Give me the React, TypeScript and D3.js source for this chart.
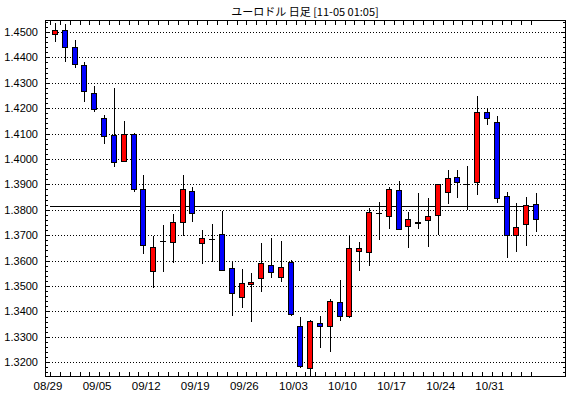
import * as d3 from "d3";

// 日付 (2011/08/29 - 11/04)
const dates = [
  "08/29", "08/30", "08/31", "09/01", "09/02",
  "09/05", "09/06", "09/07", "09/08", "09/09",
  "09/12", "09/13", "09/14", "09/15", "09/16",
  "09/19", "09/20", "09/21", "09/22", "09/23",
  "09/26", "09/27", "09/28", "09/29", "09/30",
  "10/03", "10/04", "10/05", "10/06", "10/07",
  "10/10", "10/11", "10/12", "10/13", "10/14",
  "10/17", "10/18", "10/19", "10/20", "10/21",
  "10/24", "10/25", "10/26", "10/27", "10/28",
  "10/31", "11/01", "11/02", "11/03", "11/04",
];

const opens = [
  1.4491, 1.4508, 1.444, 1.4369, 1.4259,
  1.416, 1.4095, 1.3994, 1.4099, 1.3882,
  1.3561, 1.3676, 1.3675, 1.3751, 1.3874,
  1.3671, 1.3685, 1.3704, 1.357, 1.3458,
  1.3507, 1.3531, 1.3583, 1.3537, 1.3596,
  1.3344, 1.3176, 1.3353, 1.3344, 1.3439,
  1.3384, 1.3639, 1.3635, 1.3787, 1.3775,
  1.3877, 1.3735, 1.375, 1.3758, 1.3778,
  1.3869, 1.3928, 1.3901, 1.3908, 1.4186,
  1.4147, 1.3856, 1.3701, 1.3743, 1.3822,
];

const highs = [
  1.4535, 1.453, 1.4469, 1.4383, 1.4287,
  1.4173, 1.4281, 1.415, 1.4101, 1.3937,
  1.3695, 1.374, 1.3782, 1.3937, 1.3891,
  1.3721, 1.3743, 1.3796, 1.36, 1.3567,
  1.355, 1.3668, 1.3688, 1.3677, 1.3603,
  1.338, 1.3367, 1.3382, 1.3449, 1.3524,
  1.3698, 1.3675, 1.3806, 1.3831, 1.3891,
  1.3914, 1.3793, 1.3865, 1.3845, 1.3901,
  1.3957, 1.3957, 1.3973, 1.4248, 1.42,
  1.4169, 1.3869, 1.3826, 1.3852, 1.3865,
];

const lows = [
  1.4462, 1.4383, 1.4357, 1.4223, 1.4183,
  1.4058, 1.397, 1.399, 1.3872, 1.3625,
  1.3494, 1.3557, 1.359, 1.3698, 1.3751,
  1.3586, 1.3594, 1.3559, 1.3384, 1.3415,
  1.336, 1.3478, 1.3531, 1.3517, 1.3384,
  1.3179, 1.3145, 1.3258, 1.3242, 1.3363,
  1.3376, 1.3559, 1.358, 1.3681, 1.3723,
  1.3723, 1.3649, 1.3723, 1.3655, 1.3701,
  1.3822, 1.3848, 1.3799, 1.3858, 1.4134,
  1.3826, 1.3609, 1.3633, 1.3659, 1.3712,
];

const closes = [
  1.4508, 1.4442, 1.4373, 1.4267, 1.4197,
  1.4089, 1.3987, 1.4099, 1.3882, 1.3662,
  1.3653, 1.3678, 1.3751, 1.3882, 1.3786,
  1.3688, 1.3687, 1.3564, 1.3472, 1.3511,
  1.3515, 1.359, 1.3554, 1.3576, 1.3389,
  1.3187, 1.3363, 1.3344, 1.3441, 1.3384,
  1.3649, 1.3649, 1.379, 1.3789, 1.3881,
  1.3723, 1.3763, 1.3752, 1.3777, 1.39,
  1.3924, 1.3908, 1.3903, 1.4186, 1.416,
  1.3845, 1.3701, 1.3731, 1.3817, 1.3764,
];

const yTicks = [
  1.32, 1.33, 1.34, 1.35, 1.36, 1.37, 1.38,
  1.39, 1.4, 1.41, 1.42, 1.43, 1.44, 1.45,
];
const xLabels = ["08/29", "09/05", "09/12", "09/19", "09/26", "10/03", "10/10", "10/17", "10/24", "10/31"];
const refLine = 1.3814;
const title = "ユーロドル 日足 [11-05 01:05]";

const W = 570;
const H = 398;
const plot = { left: 45, top: 20, right: 565, bottom: 376 };

export default function App() {
  const x = d3.scaleLinear().domain([0, dates.length - 1]).range([55, 536]);
  const y = d3.scaleLinear().domain([1.3142, 1.4547]).range([377, 20]);
  const px = (i: number) => Math.round(x(i));
  const py = (v: number) => Math.round(y(v));

  // 細かい目盛 (0.002 ごと)
  const minor = d3.range(1316, 1455, 2).map((d) => d / 1000);

  const font = "'Liberation Sans', Arial, sans-serif";

  return (
    <svg
      width={W}
      height={H}
      style={{ position: "absolute", left: 0, top: 0, background: "#fff" }}
      shapeRendering="crispEdges"
    >
      <rect x={0} y={0} width={W} height={H} fill="#fff" />
      <text
        x={(plot.left + plot.right) / 2}
        y={16}
        textAnchor="middle"
        fontFamily="'Noto Sans CJK JP', sans-serif"
        fontSize={11}
        fill="#000"
      >
        {title}
      </text>

      {/* グリッド */}
      {yTicks.map((t) => (
        <line
          key={"g" + t}
          x1={plot.left + 1}
          x2={plot.right}
          y1={py(t) + 0.5}
          y2={py(t) + 0.5}
          stroke="#000"
          strokeDasharray="1 2"
        />
      ))}

      {/* 目盛 左右 */}
      {minor.map((t) => {
        const isMajor = Math.abs(t * 100 - Math.round(t * 100)) < 1e-6;
        const len = isMajor ? 5 : 3;
        return (
          <g key={"m" + t}>
            <line x1={plot.left} x2={plot.left + len} y1={py(t) + 0.5} y2={py(t) + 0.5} stroke="#000" />
            <line x1={plot.right + 1} x2={plot.right + 1 - len} y1={py(t) + 0.5} y2={py(t) + 0.5} stroke="#000" />
          </g>
        );
      })}

      {/* 目盛 上下 */}
      {dates.map((d, i) => {
        const tx = Math.round(x(i) - (x(1) - x(0)) / 2) + 0.5;
        return (
          <g key={"t" + d}>
            <line x1={tx} x2={tx} y1={plot.top} y2={plot.top + 5} stroke="#000" />
            <line x1={tx} x2={tx} y1={plot.bottom + 1} y2={plot.bottom - 4} stroke="#000" />
          </g>
        );
      })}

      {/* y ラベル */}
      {yTicks.map((t) => (
        <text
          key={"l" + t}
          x={38}
          y={py(t) + 0.5}
          dy="0.35em"
          textAnchor="end"
          fontFamily={font}
          fontSize={11}
          fill="#000"
        >
          {t.toFixed(4)}
        </text>
      ))}

      {/* x ラベル */}
      {xLabels.map((l) => {
        const i = dates.indexOf(l);
        return (
          <text
            key={"x" + l}
            x={x(i) - 7}
            y={390}
            textAnchor="middle"
            fontFamily={font}
            fontSize={11.5}
            fill="#000"
          >
            {l}
          </text>
        );
      })}

      {/* 基準線 */}
      <line
        x1={px(0) - 5}
        x2={px(dates.length - 1)}
        y1={py(refLine) + 0.5}
        y2={py(refLine) + 0.5}
        stroke="#000"
      />

      {/* ローソク足 */}
      {dates.map((d, i) => {
        const cx = px(i);
        const o = opens[i];
        const c = closes[i];
        const top = py(Math.max(o, c));
        const bot = py(Math.min(o, c));
        return (
          <g key={"c" + d}>
            <line x1={cx + 0.5} x2={cx + 0.5} y1={py(highs[i])} y2={py(lows[i])} stroke="#000" />
            <rect
              x={cx - 3 + 0.5}
              y={top + 0.5}
              width={5}
              height={Math.max(bot - top, 0.01)}
              fill={c >= o ? "#ff0000" : "#0000ff"}
              stroke="#000"
            />
          </g>
        );
      })}

      {/* 枠 */}
      <rect
        x={plot.left + 0.5}
        y={plot.top + 0.5}
        width={plot.right - plot.left}
        height={plot.bottom - plot.top}
        fill="none"
        stroke="#000"
      />
    </svg>
  );
}
